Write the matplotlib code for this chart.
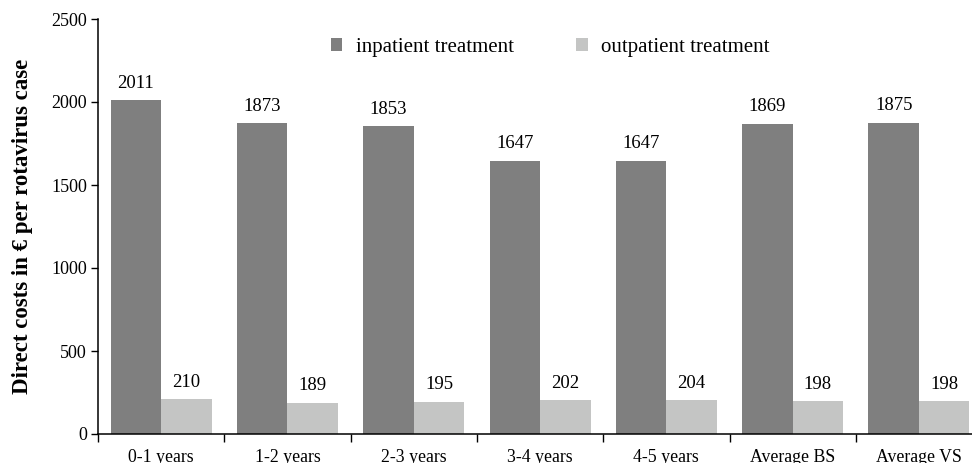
import matplotlib
matplotlib.use("Agg")
import matplotlib.pyplot as plt
import numpy as np

categories = ["0-1 years", "1-2 years", "2-3 years", "3-4 years", "4-5 years", "Average BS", "Average VS"]
inpatient = [2011, 1873, 1853, 1647, 1647, 1869, 1875]
outpatient = [210, 189, 195, 202, 204, 198, 198]
series_names = ["inpatient treatment", "outpatient treatment"]
y_ticks = [0, 500, 1000, 1500, 2000, 2500]

plt.rcParams["font.family"] = ["Liberation Serif", "DejaVu Serif"]

fig = plt.figure(figsize=(9.72, 4.63), dpi=100)
W, H = 972, 463
x0, y0 = 98, 434
cat_w = 126.3
ax = fig.add_axes([x0 / W, (H - y0) / H, cat_w * len(categories) / W, 415 / H])

dark = "#7f7f7f"
light = "#c4c5c4"
x = np.arange(len(categories))
bw = 0.4
b1 = ax.bar(x - bw / 2, inpatient, bw, color=dark, label=series_names[0])
b2 = ax.bar(x + bw / 2, outpatient, bw, color=light, label=series_names[1])

for bars, vals in ((b1, inpatient), (b2, outpatient)):
    for rect, v in zip(bars, vals):
        ax.annotate(f"{v}", (rect.get_x() + rect.get_width() / 2, v),
                    xytext=(0, 6), textcoords="offset points",
                    ha="center", va="bottom", fontsize=13.5)

ax.set_xlim(-0.5, len(categories) - 0.5)
ax.set_ylim(0, 2500)
ax.set_yticks(y_ticks)
ax.tick_params(axis="y", labelsize=13, length=5, width=1, direction="out", pad=3)
ax.set_xticks(x)
ax.set_xticklabels(categories, fontsize=12.8)
ax.tick_params(axis="x", which="major", length=0, pad=11)
ax.set_xticks(np.arange(len(categories) + 1) - 0.5, minor=True)
ax.tick_params(axis="x", which="minor", length=6, width=1, direction="out")

for s in ("top", "right"):
    ax.spines[s].set_visible(False)
for s in ("left", "bottom"):
    ax.spines[s].set_linewidth(1.1)

ax.set_ylabel("Direct costs in \u20ac per rotavirus case", fontsize=16.5,
              fontweight="bold", labelpad=13)

ax.legend(loc="upper left", bbox_to_anchor=(0.242, 1.0), ncol=2, frameon=False,
          fontsize=15, handlelength=0.55, handleheight=0.55, columnspacing=3.0,
          handletextpad=0.65)

fig.savefig("out.png", dpi=100)
